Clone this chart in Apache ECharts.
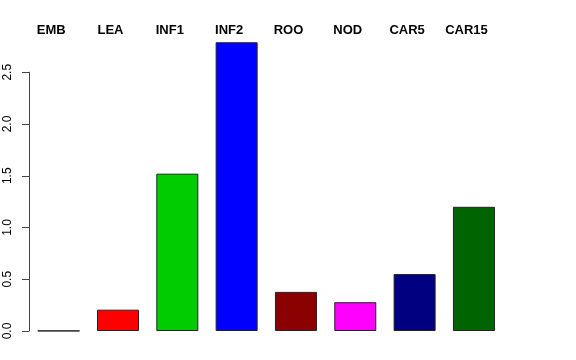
<!DOCTYPE html>
<html><head><meta charset="utf-8">
<script src="https://cdn.jsdelivr.net/npm/echarts@6/dist/echarts.min.js"></script>
<style>html,body{margin:0;padding:0;background:#fff}#c{width:576px;height:360px}</style>
</head><body><div id="c"></div>
<script>
const categories = ['EMB','LEA','INF1','INF2','ROO','NOD','CAR5','CAR15'];
const values = [0.002, 0.206, 1.52, 2.79, 0.378, 0.278, 0.55, 1.20];
const colors = ['#000000','#FF0000','#00CD00','#0000FF','#8B0000','#FF00FF','#000080','#006400'];
const yTicks = [0, 0.5, 1.0, 1.5, 2.0, 2.5];

const chart = echarts.init(document.getElementById('c'), null, {renderer:'canvas'});
const ppu = 103.5, zeroY = 331, L = 29, R = 72.4;
chart.setOption({
  animation:false,
  backgroundColor:'#fff',
  grid:[
    {left:L, right:R, top: zeroY - 2.8*ppu, bottom: 360 - zeroY},
    {left:L, right:R, top: zeroY - 2.5*ppu, bottom: 360 - zeroY}
  ],
  xAxis:[
    {type:'category', gridIndex:0, data:categories, position:'top',
     axisLine:{show:false}, axisTick:{show:false},
     axisLabel:{margin:4, interval:0, formatter:v=>'{a|'+v+'}',
       rich:{a:{fontFamily:'Liberation Sans', fontWeight:'bold', fontSize:13, color:'#000', padding:[0,15,0,0]}}}},
    {type:'category', gridIndex:1, data:categories, show:false}
  ],
  yAxis:[
    {type:'value', gridIndex:0, min:0, max:2.8, show:false},
    {type:'value', gridIndex:1, min:0, max:2.5, interval:0.5,
     axisLine:{show:true, lineStyle:{color:'#444', width:1}},
     axisTick:{show:true, length:7, lineStyle:{color:'#444'}},
     splitLine:{show:false},
     axisLabel:{rotate:90, margin:15, color:'#000', fontFamily:'Liberation Sans', fontSize:12,
       formatter:v=>v.toFixed(1)}}
  ],
  series:[{
    type:'bar', xAxisIndex:0, yAxisIndex:0, barWidth:42,
    data: values.map((v,i)=>({value:v, itemStyle:{color:colors[i]}})),
    itemStyle:{borderColor:'#222', borderWidth:1}
  }]
});
</script></body></html>
